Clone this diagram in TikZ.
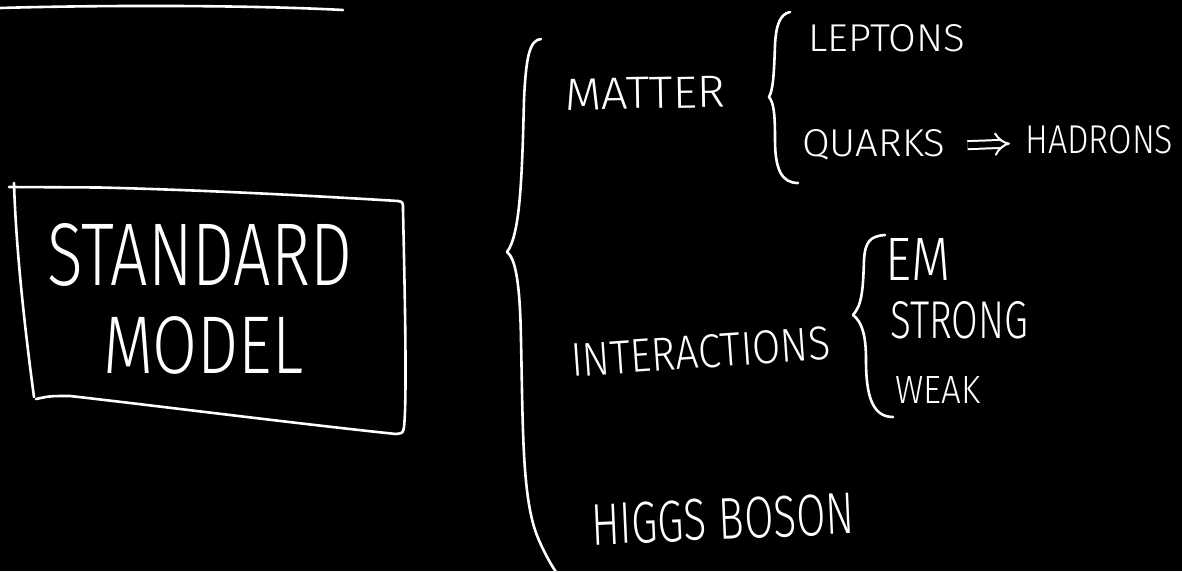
\documentclass[tikz,border=0pt]{standalone}
\usepackage{fontspec}
\usepackage{graphicx}
\setmainfont{Fira Sans Light}
\usetikzlibrary{arrows.meta}
\tikzset{
  ink/.style={draw=white, line width=2.6pt, line cap=round, line join=round},
  lbl/.style={text=white, inner sep=0pt, anchor=base west},
  implies/.style={draw=white, line width=2pt, double=black, double distance=6pt, -{Implies}},
}
\newcommand{\hw}[3]{\resizebox{#1pt}{#2pt}{#3}}
\begin{document}
\begin{tikzpicture}[x=1pt,y=-1pt]
\fill[black] (0,0) rectangle (1182,571);
\useasboundingbox (0,0) rectangle (1182,571);

% top stroke
\draw[ink] (0,8) .. controls (100,5) and (250,5) .. (343,10);

% box around the title
\draw[ink] (9,187) -- (100,187.5) .. controls (200,190) and (300,195) .. (398,201);
\draw[ink] (398,201) .. controls (403,202) .. (403,210) .. controls (405,300) and (407,400) .. (404,427) .. controls (403,433) .. (396,434);
\draw[ink] (396,434) .. controls (300,424) and (150,405) .. (70,396) .. controls (50,396) .. (36,399);
\draw[ink] (14,183) .. controls (16,250) and (25,330) .. (34,397);

\node[lbl] (standard) at (47,285) {\hw{305}{62}{STANDARD}};
\node[lbl] (model) at (103,373) {\hw{200}{57}{MODEL}};

% big brace
\draw[ink] (541,39) .. controls (530,40) and (526,55) .. (524,100) .. controls (522,180) and (520,235) .. (507,252) .. controls (515,258) and (520,280) .. (521,340) .. controls (523,430) and (522,500) .. (538,538) .. controls (544,552) and (550,563) .. (556,572);

\node[lbl, rotate=1] (matter) at (565,110) {\hw{160}{31}{MATTER}};

% matter brace
\draw[ink] (790,12) .. controls (780,14) and (776,25) .. (775,45) .. controls (774,75) and (773,90) .. (769,97) .. controls (774,103) and (775,115) .. (775,140) .. controls (775,170) and (782,183) .. (798,183);

\node[lbl] (leptons) at (808,51) {\hw{157}{27}{LEPTONS}};
\node[lbl] (quarks) at (802,156) {\hw{143}{27}{QUARKS}};
\node[lbl] (hadrons) at (1025,153) {\hw{148}{28}{HADRONS}};
\draw[implies, shorten <=22pt, shorten >=15pt] ([yshift=10pt]quarks.base east) -- ([yshift=10pt]hadrons.base west);

\node[lbl, rotate=4] (interactions) at (572,377) {\hw{260}{33}{INTERACTIONS}};

% interactions brace
\draw[ink] (885,235) .. controls (870,236) and (865,242) .. (864,260) .. controls (863,290) and (862,305) .. (853,315) .. controls (862,322) and (866,335) .. (866,360) .. controls (866,395) and (872,417) .. (893,417);

\node[lbl] (em) at (885,280) {\hw{65}{42}{EM}};
\node[lbl] (strong) at (890,338) {\hw{138}{37}{STRONG}};
\node[lbl] (weak) at (895,403) {\hw{85}{27}{WEAK}};

\node[lbl, rotate=2.5] (higgs) at (592,545) {\hw{263}{41}{HIGGS BOSON}};
\end{tikzpicture}
\end{document}
